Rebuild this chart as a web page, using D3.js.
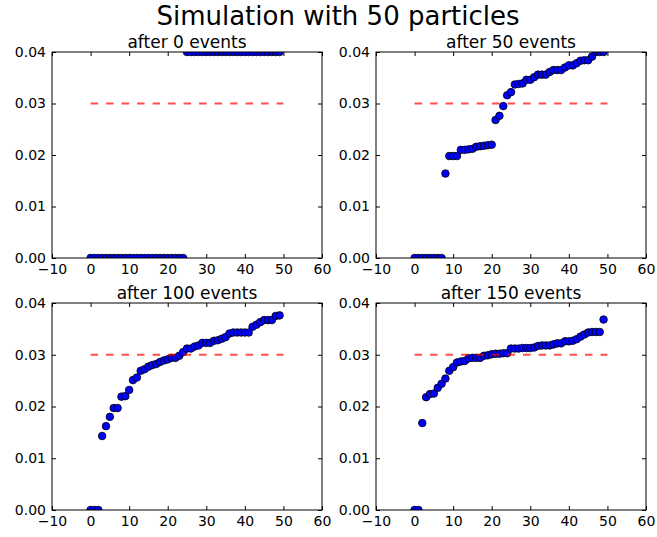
<!DOCTYPE html>
<html>
<head>
<meta charset="utf-8">
<script src="https://cdn.jsdelivr.net/npm/d3@7"></script>
<style>
  body { margin: 0; background: #fff; }
  svg { display: block; }
</style>
</head>
<body>
<div class="vis-sim"></div>
<script>
// sorted particle energies
const energies0 = [0,0,0,0,0,0,0,0,0,0,0,0,0,0,0,0,0,0,0,0,0,0,0,0,0,
  0.04,0.04,0.04,0.04,0.04,0.04,0.04,0.04,0.04,0.04,0.04,0.04,0.04,0.04,0.04,0.04,0.04,0.04,0.04,0.04,0.04,0.04,0.04,0.04,0.04];
const energies50 = [0,0,0,0,0,0,0,0,0.0164,0.0198,0.0198,0.0198,0.0210,0.0210,0.0211,0.0212,0.0216,0.0217,0.0218,0.0219,
  0.0220,0.0268,0.0276,0.0295,0.0316,0.0322,0.0337,0.0338,0.0339,0.0346,0.0346,0.0351,0.0356,0.0356,0.0356,0.0361,0.0365,
  0.0365,0.0365,0.0370,0.0374,0.0374,0.0378,0.0383,0.0384,0.0384,0.0391,0.0400,0.0400,0.0400];
const energies100 = [0,0,0,0.0143,0.0162,0.0180,0.0197,0.0197,0.0219,0.0220,0.0232,0.0251,0.0256,0.0269,0.0272,0.0277,
  0.0280,0.0282,0.0286,0.0289,0.0291,0.0294,0.0294,0.0298,0.0305,0.0312,0.0312,0.0316,0.0318,0.0323,0.0323,0.0323,0.0327,
  0.0328,0.0331,0.0334,0.0341,0.0343,0.0343,0.0343,0.0343,0.0343,0.0354,0.0358,0.0363,0.0367,0.0367,0.0367,0.0375,0.0376];
const energies150 = [0,0,0.0168,0.0218,0.0224,0.0225,0.0236,0.0244,0.0254,0.0269,0.0276,0.0285,0.0287,0.0288,0.0293,
  0.0294,0.0294,0.0294,0.0298,0.0299,0.0301,0.0302,0.0302,0.0303,0.0303,0.0312,0.0312,0.0312,0.0313,0.0313,0.0313,0.0314,
  0.0317,0.0318,0.0318,0.0318,0.0320,0.0322,0.0322,0.0326,0.0326,0.0327,0.0330,0.0335,0.0339,0.0343,0.0344,0.0344,0.0344,0.0368];
const titles = ["after 0 events", "after 50 events", "after 100 events", "after 150 events"];
const xTicks = [-10, 0, 10, 20, 30, 40, 50, 60];
const yTicks = [0, 0.01, 0.02, 0.03, 0.04];
const targetLevel = 0.03;
const targetFrom = 0, targetTo = 50;

const config = {
    "font": "DejaVu Sans",
    "dot-fill": "#0000ff",
    "target-color": "rgba(255,0,0,0.7)"
};

const width = 657, height = 537;
const panels = [
    {x: 52, y: 52, w: 270, h: 206, data: energies0},
    {x: 376, y: 52, w: 270, h: 206, data: energies50},
    {x: 52, y: 303, w: 270, h: 207, data: energies100},
    {x: 376, y: 303, w: 270, h: 207, data: energies150}
];

let svg = d3.select('.vis-sim')
            .append("svg")
            .attr("width", width)
            .attr("height", height)
            .style("font-family", config.font);

svg.append("text")
    .attr("x", 338)
    .attr("y", 25)
    .attr("text-anchor", "middle")
    .style("font-size", "26px")
    .text("Simulation with 50 particles");

panels.forEach((p, k) => {
    const xScale = d3.scaleLinear().domain([-10, 60]).range([0, p.w]);
    const yScale = d3.scaleLinear().domain([0, 0.04]).range([p.h, 0]);

    let g = svg.append("g")
        .attr("transform", `translate(${p.x},${p.y})`);

    g.append("clipPath")
        .attr("id", "clip_" + k)
        .append("rect")
        .attr("width", p.w)
        .attr("height", p.h);

    // ticks point inward on all four sides
    let axisB = d3.axisBottom(xScale).tickValues(xTicks).tickSize(-4).tickPadding(6)
        .tickFormat(d => d < 0 ? "\u2212" + Math.abs(d) : d);
    let axisT = d3.axisTop(xScale).tickValues(xTicks).tickSize(-4).tickFormat("");
    let axisL = d3.axisLeft(yScale).tickValues(yTicks).tickSize(-4).tickPadding(6)
        .tickFormat(d3.format(".2f"));
    let axisR = d3.axisRight(yScale).tickValues(yTicks).tickSize(-4).tickFormat("");

    g.append("g").attr("transform", `translate(0,${p.h})`).call(axisB);
    g.append("g").call(axisT);
    g.append("g").call(axisL);
    g.append("g").attr("transform", `translate(${p.w},0)`).call(axisR);

    g.selectAll(".domain").remove();
    g.selectAll(".tick text")
        .style("font-family", config.font)
        .style("font-size", "14px")
        .attr("fill", "#000");
    g.selectAll(".tick line").attr("stroke", "#000");

    let content = g.append("g").attr("clip-path", `url(#clip_${k})`);
    content.selectAll(".dot")
        .data(p.data)
        .enter()
        .append("circle")
        .attr("class", "dot")
        .attr("cx", (d, i) => xScale(i))
        .attr("cy", d => yScale(d))
        .attr("r", 3.8)
        .attr("fill", config["dot-fill"])
        .attr("stroke", "#000")
        .attr("stroke-width", 0.8);

    content.append("line")
        .attr("x1", xScale(targetFrom))
        .attr("x2", xScale(targetTo))
        .attr("y1", yScale(targetLevel))
        .attr("y2", yScale(targetLevel))
        .attr("stroke", config["target-color"])
        .attr("stroke-width", 2)
        .attr("stroke-dasharray", "7.5,8");

    g.append("rect")
        .attr("width", p.w)
        .attr("height", p.h)
        .attr("fill", "none")
        .attr("stroke", "#000")
        .attr("stroke-width", 1);

    g.append("text")
        .attr("x", p.w / 2)
        .attr("y", -4)
        .attr("text-anchor", "middle")
        .style("font-size", "17px")
        .text(titles[k]);
});
</script>
</body>
</html>
